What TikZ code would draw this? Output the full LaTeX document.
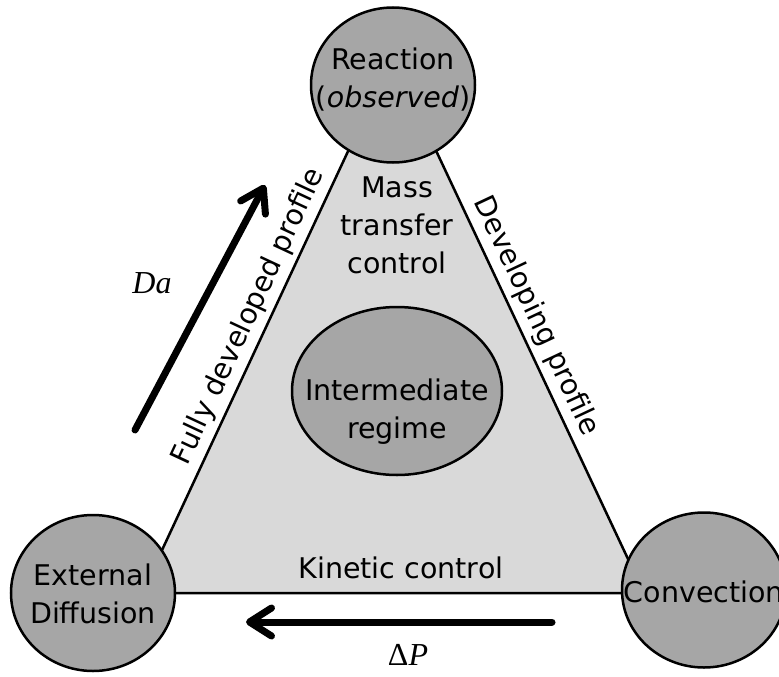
\documentclass[tikz,border=0pt]{standalone}
\usepackage{fontspec}
\setmainfont{DejaVu Sans}
\newfontfamily\timesfont{Liberation Serif}
\usepackage{tikz}
\usetikzlibrary{arrows.meta, shapes.geometric}

\definecolor{bubblegray}{RGB}{166,166,166}
\definecolor{trigray}{RGB}{217,217,217}

\begin{document}
\begin{tikzpicture}[x=1pt, y=-1pt,
        bubble/.style={ellipse, draw, line width=2.5pt, fill=bubblegray, inner sep=0pt},
        txt/.style={align=center, inner sep=0pt, font=\fontsize{28.5}{38}\selectfont},
        edgetxt/.style={sloped, above, midway, inner sep=5pt, font=\fontsize{28.5}{34}\selectfont},
        bigarrow/.style={-{Straight Barb[length=22pt, width=28pt, round]}, line width=7pt, line cap=round}]
    \useasboundingbox (0,0) rectangle (779,677);

    \coordinate (apex) at (392,57);
    \coordinate (lft) at (142,593);
    \coordinate (rgt) at (644,593);

    \draw[line width=2.5pt, fill=trigray] (lft) -- node[edgetxt] (fullytxt) {Fully developed profile}
        (apex) -- node[edgetxt] (devtxt) {Developing profile} (rgt) -- cycle;

    \node[bubble, minimum width=164pt, minimum height=155pt] at (393,85)  (react) {};
    \node[bubble, minimum width=164pt, minimum height=156pt] at (93,593)  (diff) {};
    \node[bubble, minimum width=164pt, minimum height=155pt] at (704,590) (conv) {};
    \node[bubble, minimum width=210pt, minimum height=168pt] at (397,391) (mid) {};

    \node[txt] at (393,80)  (reacttxt) {Reaction\\(\textit{observed})};
    \node[txt] at (397,225) (masstxt)  {Mass\\transfer\\control};
    \node[txt] at (397,412) (midtxt)   {Intermediate\\regime};
    \node[txt] at (93,594)  (difftxt)  {External\\Diffusion};
    \node[txt] at (704,592) (convtxt)  {Convection};
    \node[txt] at (401,568) (kintxt)   {Kinetic control};

    \node[font=\fontsize{32}{38}\timesfont\itshape] at (152,283) (datxt) {Da};
    \node[font=\fontsize{32}{38}\timesfont] at (408,655) (dptxt) {Δ\textit{P}};

    \coordinate (da0) at (135,430);
    \coordinate (da1) at (265,185);
    \coordinate (dp0) at (552,622);
    \coordinate (dp1) at (246,622);

    \draw[bigarrow] (da0) -- (da1);
    \draw[bigarrow] (dp0) -- (dp1);
\end{tikzpicture}
\end{document}
